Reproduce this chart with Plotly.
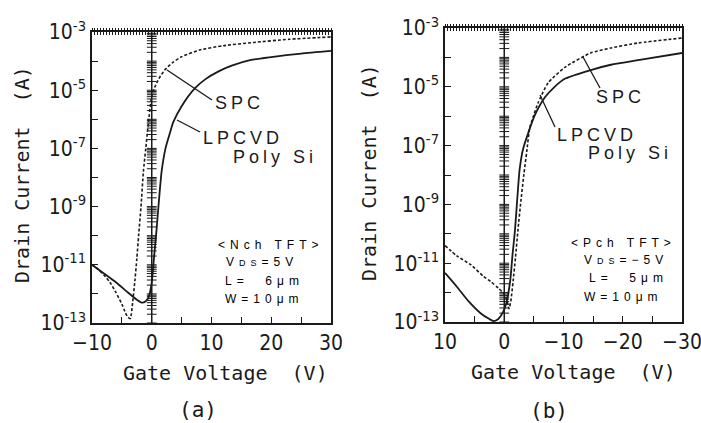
import plotly.graph_objects as go

# ---------------- data (log10 of drain current) ----------------
# (a) Nch TFT, VDS = 5 V
nch_spc_v = [-10, -9, -8, -7, -6, -5, -4.5, -4.0, -3.6, -3.2, -2.8, -2.5, -2.2, -1.8, -1.4, -1.0,
             -0.6, 0, 0.5, 1.2, 2.2, 3.5, 5, 8, 12, 17, 23, 30]
nch_spc_log = [-11.0, -11.15, -11.35, -11.6, -11.95, -12.35, -12.6, -12.8, -12.85, -12.3, -11.5, -10.8,
               -10.0, -9.0, -7.8, -7.0, -6.2, -5.2, -4.9, -4.6, -4.3, -4.05, -3.85, -3.62, -3.47, -3.36,
               -3.25, -3.17]
nch_lp_v = [-10, -8, -6, -4, -2.5, -1.7, -1.0, -0.5, 0, 0.4, 0.8, 1.2, 1.65, 2.3, 3, 3.6, 5, 7.2, 9,
            11.1, 13.5, 16.6, 20, 25, 30]
nch_lp_log = [-11.0, -11.3, -11.6, -11.95, -12.2, -12.3, -12.25, -12.1, -11.6, -10.7, -9.8, -8.8, -7.8,
              -7.0, -6.5, -6.1, -5.55, -4.94, -4.62, -4.36, -4.15, -3.96, -3.86, -3.74, -3.65]

# (b) Pch TFT, VDS = -5 V
pch_spc_v = [10, 8, 5.6, 3.5, 2.2, 1.0, 0, -0.5, -0.8, -1.1, -1.5, -1.9, -2.3, -2.8, -3.3, -3.8, -4.3,
             -5.0, -5.7, -7.4, -10.3, -14.6, -18, -22.6, -30]
pch_spc_log = [-10.4, -10.75, -11.06, -11.45, -11.64, -11.85, -12.05, -12.3, -12.55, -12.3, -11.6, -10.8,
               -9.9, -8.9, -8.0, -7.2, -6.4, -5.95, -5.55, -4.87, -4.33, -3.85, -3.68, -3.51, -3.34]
pch_lp_v = [10, 8, 6, 4, 2.5, 1.8, 1.0, 0.3, -0.3, -1.0, -1.4, -1.8, -2.2, -2.6, -3.2, -4.0, -5.2, -6.9,
            -8.5, -10.3, -14.6, -18, -22.6, -30]
pch_lp_log = [-11.33, -11.8, -12.3, -12.7, -12.9, -12.97, -12.9, -12.7, -12.4, -11.6, -10.7, -9.9, -8.8,
              -7.8, -7.1, -6.6, -5.95, -5.35, -5.0, -4.72, -4.43, -4.25, -4.09, -3.85]

y_exponents = list(range(-13, -2))
y_ticktext = [("10<sup>%d</sup>" % e) if e % 2 else "" for e in y_exponents]
xa_ticks = [-10, -5, 0, 5, 10, 15, 20, 25, 30]
xa_text = ["\u221210", "", "0", "", "10", "", "20", "", "30"]
xb_ticks = [10, 5, 0, -5, -10, -15, -20, -25, -30]
xb_text = ["10", "", "0", "", "\u221210", "", "\u221220", "", "\u221230"]

BLACK = "#1a1a1a"
TICKFONT = dict(family="DejaVu Sans Condensed, DejaVu Sans Mono, monospace", size=21, color=BLACK)
TITLEFONT = dict(family="DejaVu Sans Mono, monospace", size=20, color=BLACK)
LABFONT = dict(family="Liberation Sans, Arial, sans-serif", size=18, color=BLACK)
BOXFONT = dict(family="Liberation Sans, Arial, sans-serif", size=12, color="#000000")

fig = go.Figure()

def curve(v, lg, xa, ya, dash):
    fig.add_trace(go.Scatter(x=v, y=[10.0 ** l for l in lg], mode="lines", xaxis=xa, yaxis=ya,
                             line=dict(color=BLACK, width=1.8 if dash == "solid" else 1.6,
                                       dash=dash, shape="spline", smoothing=0.6),
                             showlegend=False, hoverinfo="skip"))

curve(nch_spc_v, nch_spc_log, "x", "y", "3px,2px")
curve(nch_lp_v, nch_lp_log, "x", "y", "solid")
curve(pch_spc_v, pch_spc_log, "x2", "y2", "3px,2px")
curve(pch_lp_v, pch_lp_log, "x2", "y2", "solid")

# decorative crossed line at V = 0
minor_y = [k * 10.0 ** e for e in range(-13, -3) for k in range(1, 10)]
for xa, ya in (("x", "y"), ("x2", "y2")):
    fig.add_trace(go.Scatter(x=[0, 0], y=[1e-13, 1e-3], mode="lines", xaxis=xa, yaxis=ya,
                             line=dict(color=BLACK, width=1.5), showlegend=False, hoverinfo="skip"))
    fig.add_trace(go.Scatter(x=[0] * len(minor_y), y=minor_y, mode="markers", xaxis=xa, yaxis=ya,
                             marker=dict(symbol="line-ew", size=7, color=BLACK,
                                         line=dict(color=BLACK, width=1)),
                             cliponaxis=False, showlegend=False, hoverinfo="skip"))

# invisible traces so the overlay (top cross-tick) axes exist
for xa, ya in (("x3", "y"), ("x4", "y"), ("x5", "y2"), ("x6", "y2")):
    fig.add_trace(go.Scatter(x=[0], y=[1e-8], mode="markers", xaxis=xa, yaxis=ya,
                             marker=dict(opacity=0), showlegend=False, hoverinfo="skip"))

W, H = 701, 423
def px(x): return x / W
def py(y): return 1 - y / H

common_x = dict(showline=True, linecolor=BLACK, linewidth=1.5, mirror=True, ticks="inside",
                ticklen=6, tickwidth=1.3, tickcolor=BLACK, showgrid=False, zeroline=False,
                tickfont=TICKFONT, tickmode="array", automargin=False, ticklabeloverflow="allow")
common_y = dict(type="log", showline=True, linecolor=BLACK, linewidth=1.5, mirror=True, ticks="inside",
                ticklen=6, tickwidth=1.3, tickcolor=BLACK, showgrid=False, zeroline=False,
                tickfont=TICKFONT, tickmode="array", range=[-13, -3], automargin=False,
                tickvals=[10.0 ** e for e in y_exponents], ticktext=y_ticktext,
                ticklabeloverflow="allow")

def top_axis(over, anchor, rng, dom, direction):
    return dict(overlaying=over, anchor=anchor, side="top", range=rng, domain=dom,
                tickmode="linear", tick0=0, dtick=0.5, ticks=direction, ticklen=3, tickwidth=1,
                tickcolor=BLACK, showticklabels=False, showline=False, showgrid=False,
                zeroline=False, automargin=False)

dom_a = [px(92), px(331)]
dom_b = [px(445), px(682)]
fig.update_layout(
    width=W, height=H, margin=dict(l=0, r=0, t=0, b=0, autoexpand=False),
    paper_bgcolor="white", plot_bgcolor="white", showlegend=False,
    xaxis=dict(domain=dom_a, range=[-10, 30], tickvals=xa_ticks, ticktext=xa_text,
               anchor="y", **common_x),
    yaxis=dict(domain=[py(323), py(32)], anchor="x", **common_y),
    xaxis2=dict(domain=dom_b, range=[10, -30], tickvals=xb_ticks, ticktext=xb_text,
                anchor="y2", **common_x),
    yaxis2=dict(domain=[py(322), py(28)], anchor="x2", **common_y),
    xaxis3=top_axis("x", "y", [-10, 30], dom_a, "outside"),
    xaxis4=top_axis("x", "y", [-10, 30], dom_a, "inside"),
    xaxis5=top_axis("x2", "y2", [10, -30], dom_b, "outside"),
    xaxis6=top_axis("x2", "y2", [10, -30], dom_b, "inside"),
)

ann = []
def text(x, y, t, font, **kw):
    ann.append(dict(x=px(x), y=py(y), xref="paper", yref="paper", text=t, showarrow=False,
                    font=font, xanchor="center", yanchor="middle", **kw))

sp = lambda s, n: '<span style="letter-spacing:%dpx">%s</span>' % (n, s)

# axis titles
text(22, 175, "Drain Current\u00a0\u00a0(A)", TITLEFONT, textangle=-90)
text(369, 173, "Drain Current\u00a0\u00a0(A)", TITLEFONT, textangle=-90)
text(225, 373, "Gate Voltage\u00a0\u00a0(V)", TITLEFONT)
text(573, 372, "Gate Voltage\u00a0\u00a0(V)", TITLEFONT)
text(198, 410, "(a)", dict(family="DejaVu Sans Mono, monospace", size=21, color=BLACK))
text(549, 411, "(b)", dict(family="DejaVu Sans Mono, monospace", size=21, color=BLACK))

# curve labels
text(239, 103, sp("SPC", 4), LABFONT)
text(243, 138, sp("LPCVD", 4), LABFONT)
text(275, 157, sp("Poly Si", 4), LABFONT)
text(620, 97, sp("SPC", 4), LABFONT)
text(597, 135, sp("LPCVD", 4), LABFONT)
text(630, 153, sp("Poly Si", 4), LABFONT)

# condition boxes
small = '<span style="font-size:9px">DS</span>'
text(270, 245, sp("&lt;Nch TFT&gt;", 5), BOXFONT)
text(262, 262, sp("V" + small + "=5V", 5), BOXFONT)
text(264, 281, sp("L=\u00a0\u00a06\u03bcm", 5), BOXFONT)
text(264, 299, sp("W=10\u03bcm", 5), BOXFONT)
text(623, 243, sp("&lt;Pch TFT&gt;", 5), BOXFONT)
text(626, 260, sp("V" + small + "=\u22125V", 5), BOXFONT)
text(628, 278, sp("L=\u00a0\u00a05\u03bcm", 5), BOXFONT)
text(623, 297, sp("W=10\u03bcm", 5), BOXFONT)

shapes = []
for (x0, y0, x1, y1) in ((212, 100, 167, 70), (200, 132, 177, 120), (600, 88, 583, 57), (555, 127, 540, 95)):
    shapes.append(dict(type="line", xref="paper", yref="paper", x0=px(x0), y0=py(y0), x1=px(x1), y1=py(y1),
                       line=dict(color=BLACK, width=1.3)))

fig.update_layout(annotations=ann, shapes=shapes)
fig.write_html("out.html", config={"displayModeBar": False},
               post_script="document.body.style.margin='0';")
